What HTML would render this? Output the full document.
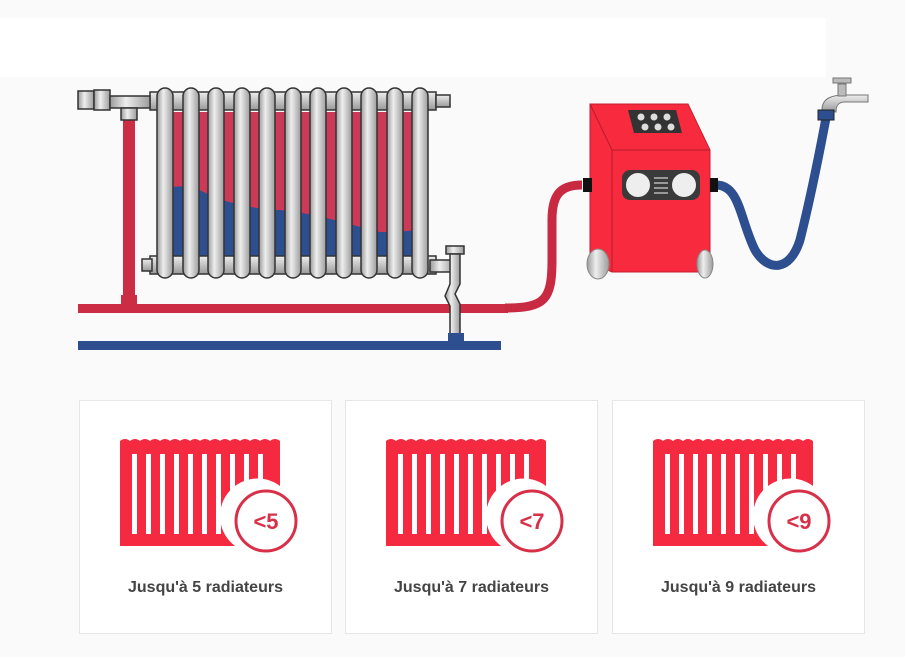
<!DOCTYPE html>
<html><head><meta charset="utf-8"><style>
html,body{margin:0;padding:0;background:#fafafa;}
body{width:905px;height:657px;position:relative;overflow:hidden;font-family:"Liberation Sans",sans-serif;}
.card{position:absolute;top:400px;width:253px;height:234px;background:#fff;border:1px solid #e6e6e6;box-sizing:border-box;}
.card .t{position:absolute;left:0;right:0;top:178px;text-align:center;font-size:16px;font-weight:bold;color:#444;}
</style></head><body>
<div style="position:absolute;left:0;top:18px;width:826px;height:59px;background:#fff"></div>
<svg width="905" height="400" style="position:absolute;left:0;top:0">
<defs>
<linearGradient id="g" x1="0" x2="1"><stop offset="0" stop-color="#9a9a9a"/><stop offset=".4" stop-color="#eee"/><stop offset="1" stop-color="#9c9c9c"/></linearGradient>
<linearGradient id="gv" x1="0" y1="0" x2="0" y2="1"><stop offset="0" stop-color="#eee"/><stop offset="1" stop-color="#999"/></linearGradient>
</defs>
<!-- pipes -->
<rect x="78" y="304" width="430" height="9" fill="#cc2c44"/>
<rect x="78" y="341" width="423" height="9" fill="#2d4f8f"/>
<rect x="123" y="118" width="12" height="190" fill="#cc2c44"/>
<rect x="121" y="295" width="16" height="12" fill="#cc2c44"/>
<path d="M505 308 C545 308 552 300 552 260 L552 220 C552 195 560 185 582 185" fill="none" stroke="#c82a42" stroke-width="9"/>
<path d="M716 185 C740 185 740 220 755 250 C768 272 790 272 800 240 C810 200 820 150 826 118" fill="none" stroke="#2d4f8f" stroke-width="9"/>
<!-- radiator interior -->
<rect x="168" y="112" width="250" height="145" fill="#cc3a58"/>
<path d="M168 188 C190 183 200 190 215 198 C240 205 260 210 280 210 C320 214 350 225 380 232 C400 233 410 230 418 230 L418 257 L168 257Z" fill="#2d4f8f"/>
<!-- header bars -->
<g stroke="#333" stroke-width="1.5" fill="url(#gv)">
<rect x="150" y="92" width="286" height="18"/>
<rect x="150" y="256" width="286" height="18"/>
<rect x="436" y="95" width="14" height="12"/>
<rect x="142" y="259" width="10" height="12"/>
</g>
<g stroke="#333" stroke-width="1.5" fill="url(#g)">
<rect x="157" y="88" width="16" height="190" rx="8"/>
<rect x="183" y="88" width="16" height="190" rx="8"/>
<rect x="208" y="88" width="16" height="190" rx="8"/>
<rect x="234" y="88" width="16" height="190" rx="8"/>
<rect x="259" y="88" width="16" height="190" rx="8"/>
<rect x="285" y="88" width="16" height="190" rx="8"/>
<rect x="310" y="88" width="16" height="190" rx="8"/>
<rect x="336" y="88" width="16" height="190" rx="8"/>
<rect x="361" y="88" width="16" height="190" rx="8"/>
<rect x="387" y="88" width="16" height="190" rx="8"/>
<rect x="412" y="88" width="16" height="190" rx="8"/>
<!-- valve top-left -->
<rect x="78" y="91" width="16" height="18"/>
<rect x="94" y="90" width="16" height="20"/>
<rect x="110" y="96" width="40" height="12"/>
<rect x="121" y="108" width="16" height="12"/>
<!-- bottom right valve -->
<rect x="430" y="260" width="24" height="12"/>
<rect x="446" y="246" width="18" height="8"/>
<path d="M450 254 h10 v30 l-5 10 l5 10 v30 h-10 v-28 l-5 -10 l5 -12z"/>
</g>
<rect x="448" y="333" width="16" height="12" fill="#2d4f8f"/>
<!-- machine -->
<path d="M590 104 L688 104 L710 150 L710 272 L612 272 L590 262Z" fill="#f82a3e" stroke="#c21d30" stroke-width="1"/>
<path d="M590 104 L612 150 L710 150 M612 150 L612 272" fill="none" stroke="#c21d30" stroke-width="1.2"/>
<path d="M628 110 L676 110 L682 133 L634 133Z" fill="#333"/>
<g fill="#ddd"><circle cx="641" cy="117" r="3.5"/><circle cx="654" cy="117" r="3.5"/><circle cx="667" cy="117" r="3.5"/><circle cx="645" cy="127" r="3.5"/><circle cx="658" cy="127" r="3.5"/><circle cx="671" cy="127" r="3.5"/></g>
<rect x="622" y="170" width="78" height="30" rx="8" fill="#3a3a3a"/>
<circle cx="638" cy="185" r="12" fill="#eee"/><circle cx="684" cy="185" r="12" fill="#eee"/>
<g stroke="#ccc" stroke-width="1.3"><line x1="654" y1="178" x2="668" y2="178"/><line x1="654" y1="183" x2="668" y2="183"/><line x1="654" y1="188" x2="668" y2="188"/><line x1="654" y1="193" x2="668" y2="193"/></g>
<ellipse cx="598" cy="264" rx="11" ry="15" fill="url(#g)" stroke="#888"/>
<ellipse cx="705" cy="264" rx="8" ry="14" fill="url(#g)" stroke="#888"/>
<rect x="583" y="178" width="9" height="14" fill="#111"/>
<rect x="710" y="178" width="8" height="14" fill="#111"/>
<!-- tap -->
<path d="M822 110 C822 98 832 95 845 95 L868 95 L868 102 L845 102 C838 102 836 106 836 112Z" fill="url(#gv)" stroke="#777"/>
<rect x="838" y="84" width="8" height="12" fill="#bbb" stroke="#777"/>
<rect x="833" y="78" width="18" height="5" fill="#bbb" stroke="#777"/>
<rect x="818" y="110" width="16" height="10" fill="#2d4f8f" stroke="#222"/>
</svg>

<div class="card" style="left:79px">
<svg width="253" height="170" style="position:absolute;left:0;top:0">
<path d="M40 40 q5 -4 10 0 q5 -4 10 0 q5 -4 10 0 q5 -4 10 0 q5 -4 10 0 q5 -4 10 0 q5 -4 10 0 q5 -4 10 0 q5 -4 10 0 q5 -4 10 0 q5 -4 10 0 q5 -4 10 0 q5 -4 10 0 q5 -4 10 0 q5 -4 10 0 q5 -4 10 0 L200 50 L200 85 A34 34 0 0 0 155 145 L40 145Z" fill="#f52a40"/>
<g fill="#fff"><rect x="52" y="53" width="5" height="80"/><rect x="66" y="53" width="5" height="80"/><rect x="80" y="53" width="5" height="80"/><rect x="94" y="53" width="5" height="80"/><rect x="108" y="53" width="5" height="80"/><rect x="122" y="53" width="5" height="80"/><rect x="136" y="53" width="5" height="80"/><rect x="150" y="53" width="5" height="80"/><rect x="164" y="53" width="5" height="40"/><rect x="178" y="53" width="5" height="32"/></g>
<circle cx="186" cy="120" r="30" fill="#fff" stroke="#d83048" stroke-width="3"/>
<text x="186" y="128" text-anchor="middle" font-size="22" font-weight="bold" fill="#d83048" font-family="Liberation Sans">&lt;5</text>
</svg><div class="t">Jusqu'à 5 radiateurs</div></div>

<div class="card" style="left:345px">
<svg width="253" height="170" style="position:absolute;left:0;top:0">
<path d="M40 40 q5 -4 10 0 q5 -4 10 0 q5 -4 10 0 q5 -4 10 0 q5 -4 10 0 q5 -4 10 0 q5 -4 10 0 q5 -4 10 0 q5 -4 10 0 q5 -4 10 0 q5 -4 10 0 q5 -4 10 0 q5 -4 10 0 q5 -4 10 0 q5 -4 10 0 q5 -4 10 0 L200 50 L200 85 A34 34 0 0 0 155 145 L40 145Z" fill="#f52a40"/>
<g fill="#fff"><rect x="52" y="53" width="5" height="80"/><rect x="66" y="53" width="5" height="80"/><rect x="80" y="53" width="5" height="80"/><rect x="94" y="53" width="5" height="80"/><rect x="108" y="53" width="5" height="80"/><rect x="122" y="53" width="5" height="80"/><rect x="136" y="53" width="5" height="80"/><rect x="150" y="53" width="5" height="80"/><rect x="164" y="53" width="5" height="40"/><rect x="178" y="53" width="5" height="32"/></g>
<circle cx="186" cy="120" r="30" fill="#fff" stroke="#d83048" stroke-width="3"/>
<text x="186" y="128" text-anchor="middle" font-size="22" font-weight="bold" fill="#d83048" font-family="Liberation Sans">&lt;7</text>
</svg><div class="t">Jusqu'à 7 radiateurs</div></div>

<div class="card" style="left:612px">
<svg width="253" height="170" style="position:absolute;left:0;top:0">
<path d="M40 40 q5 -4 10 0 q5 -4 10 0 q5 -4 10 0 q5 -4 10 0 q5 -4 10 0 q5 -4 10 0 q5 -4 10 0 q5 -4 10 0 q5 -4 10 0 q5 -4 10 0 q5 -4 10 0 q5 -4 10 0 q5 -4 10 0 q5 -4 10 0 q5 -4 10 0 q5 -4 10 0 L200 50 L200 85 A34 34 0 0 0 155 145 L40 145Z" fill="#f52a40"/>
<g fill="#fff"><rect x="52" y="53" width="5" height="80"/><rect x="66" y="53" width="5" height="80"/><rect x="80" y="53" width="5" height="80"/><rect x="94" y="53" width="5" height="80"/><rect x="108" y="53" width="5" height="80"/><rect x="122" y="53" width="5" height="80"/><rect x="136" y="53" width="5" height="80"/><rect x="150" y="53" width="5" height="80"/><rect x="164" y="53" width="5" height="40"/><rect x="178" y="53" width="5" height="32"/></g>
<circle cx="186" cy="120" r="30" fill="#fff" stroke="#d83048" stroke-width="3"/>
<text x="186" y="128" text-anchor="middle" font-size="22" font-weight="bold" fill="#d83048" font-family="Liberation Sans">&lt;9</text>
</svg><div class="t">Jusqu'à 9 radiateurs</div></div>
</body></html>
